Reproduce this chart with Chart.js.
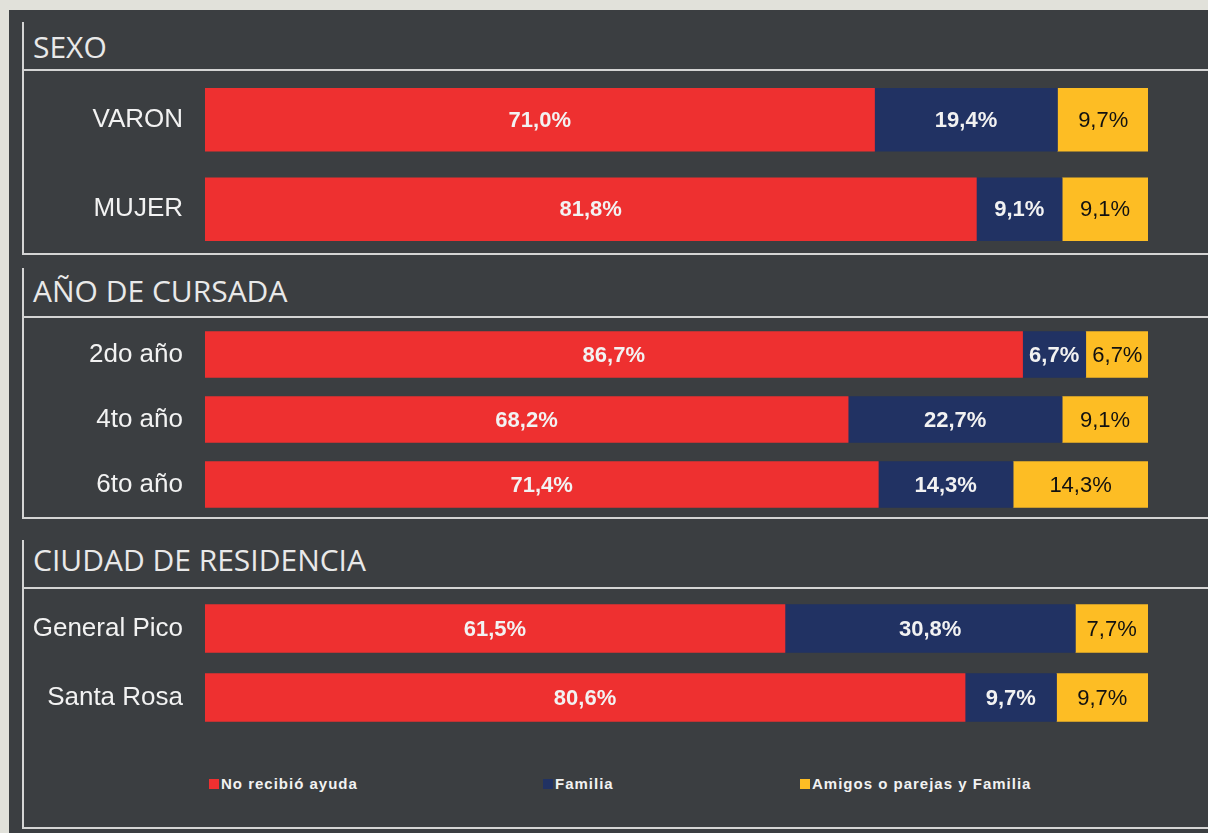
<!DOCTYPE html>
<html>
<head>
<meta charset="utf-8">
<script src="https://cdn.jsdelivr.net/npm/chart.js@4.4.0/dist/chart.umd.min.js"></script>
<style>
  html, body { margin: 0; padding: 0; }
  body { width: 1208px; height: 833px; background: #e1e1da; position: relative; overflow: hidden; }
  #panel { position: absolute; left: 9px; top: 10px; right: 0; bottom: 0; background: #3b3e41; }
  .hline { position: absolute; left: 23px; right: 0; height: 2px; background: #d4d4d4; }
  .vline { position: absolute; left: 22px; width: 2px; background: #d4d4d4; }
  .title { position: absolute; left: 33px; font-family: "Open Sans", sans-serif; font-size: 30px; color: #e9e9e9; line-height: 1; }
  canvas { position: absolute; left: 23px; }
  #legend { position: absolute; top: 775px; left: 0; width: 1208px; height: 20px;
            font-family: "Liberation Sans", Arial, sans-serif; font-weight: bold; font-size: 15px;
            letter-spacing: 1px; color: #f2f2f2; }
  #legend span.item { position: absolute; top: 0; white-space: nowrap; }
  #legend span.sw { display: inline-block; width: 10px; height: 10px; margin-right: 2px; vertical-align: 0px; }
</style>
</head>
<body>
<div id="panel"></div>

<div class="vline" style="top:22px;height:233px"></div>
<div class="vline" style="top:268px;height:251px"></div>
<div class="vline" style="top:540px;height:289px"></div>

<div class="hline" style="top:69px"></div>
<div class="hline" style="top:253px"></div>
<div class="hline" style="top:316px"></div>
<div class="hline" style="top:517px"></div>
<div class="hline" style="top:587px"></div>
<div class="hline" style="top:827px"></div>

<div class="title" style="top:32px">SEXO</div>
<div class="title" style="top:276px">AÑO DE CURSADA</div>
<div class="title" style="top:545px">CIUDAD DE RESIDENCIA</div>

<canvas id="c1" width="1185" height="179" style="top:75px"></canvas>
<canvas id="c2" width="1185" height="195" style="top:322px"></canvas>
<canvas id="c3" width="1185" height="138" style="top:594px"></canvas>

<div id="legend"></div>

<script>
// Categories per section
const sexoLabels = ['VARON', 'MUJER'];
const anioLabels = ['2do año', '4to año', '6to año'];
const ciudadLabels = ['General Pico', 'Santa Rosa'];

// Series names and colours
const seriesNames = ['No recibió ayuda', 'Familia', 'Amigos o parejas y Familia'];
const seriesColors = ['#ee3030', '#213263', '#fdbd24'];

// Values (%)
const sexoNoAyuda = [71.0, 81.8];
const sexoFamilia = [19.4, 9.1];
const sexoAmigos = [9.7, 9.1];

const anioNoAyuda = [86.7, 68.2, 71.4];
const anioFamilia = [6.7, 22.7, 14.3];
const anioAmigos = [6.7, 9.1, 14.3];

const ciudadNoAyuda = [61.5, 80.6];
const ciudadFamilia = [30.8, 9.7];
const ciudadAmigos = [7.7, 9.7];

// draw the percentage inside each segment
const valueLabels = {
    id: 'valueLabels',
    afterDatasetsDraw(chart) {
        const ctx = chart.ctx;
        ctx.save();
        ctx.textAlign = 'center';
        ctx.textBaseline = 'middle';
        chart.data.datasets.forEach(function (ds, i) {
            const meta = chart.getDatasetMeta(i);
            meta.data.forEach(function (bar, j) {
                const v = ds.data[j];
                const txt = v.toFixed(1).replace('.', ',') + '%';
                if (i === 2) {
                    ctx.fillStyle = '#111111';
                    ctx.font = '22px "Liberation Sans", Arial, sans-serif';
                } else {
                    ctx.fillStyle = '#f2f2f2';
                    ctx.font = 'bold 22px "Liberation Sans", Arial, sans-serif';
                }
                const x = (bar.x + bar.base) / 2;
                ctx.fillText(txt, x, bar.y + 1);
            });
        });
        ctx.restore();
    }
};

function makeChart(id, labels, a, b, c, thickness) {
    const values = [a, b, c];
    new Chart(document.getElementById(id), {
        type: 'bar',
        data: {
            labels: labels,
            datasets: values.map(function (vals, i) {
                return {
                    label: seriesNames[i],
                    data: vals,
                    backgroundColor: seriesColors[i],
                    borderWidth: 0,
                    barThickness: thickness
                };
            })
        },
        options: {
            indexAxis: 'y',
            responsive: false,
            animation: false,
            layout: { padding: { left: 0, right: 60, top: 0, bottom: 0 } },
            plugins: { legend: { display: false }, tooltip: { enabled: false } },
            scales: {
                x: { stacked: true, min: 0, max: 100, display: false },
                y: {
                    stacked: true,
                    grid: { display: false },
                    border: { display: false },
                    ticks: {
                        color: '#f2f2f2',
                        padding: 14,
                        font: { family: '"Liberation Sans", Arial, sans-serif', size: 26 }
                    },
                    afterFit: function (scale) {
                        scale.width = 182;
                        // rows fill the whole canvas height
                        scale.paddingTop = 0;
                        scale.paddingBottom = 0;
                    }
                }
            }
        },
        plugins: [valueLabels]
    });
}

makeChart('c1', sexoLabels, sexoNoAyuda, sexoFamilia, sexoAmigos, 63);
makeChart('c2', anioLabels, anioNoAyuda, anioFamilia, anioAmigos, 46);
makeChart('c3', ciudadLabels, ciudadNoAyuda, ciudadFamilia, ciudadAmigos, 48);

// legend
const legendX = [209, 543, 800];
const legend = document.getElementById('legend');
seriesNames.forEach(function (name, i) {
    const item = document.createElement('span');
    item.className = 'item';
    item.style.left = legendX[i] + 'px';
    item.innerHTML = '<span class="sw" style="background:' + seriesColors[i] + '"></span>' + name;
    legend.appendChild(item);
});
</script>
</body>
</html>
